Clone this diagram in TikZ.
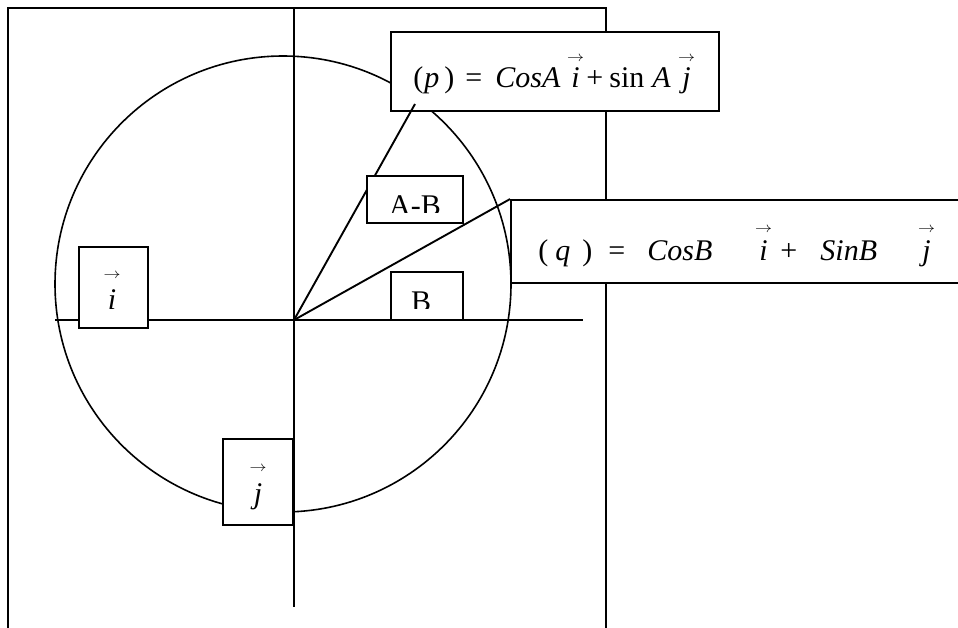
\documentclass[tikz,border=0pt]{standalone}
\usepackage{fontspec}
\setmainfont{Liberation Serif}
\usepackage{graphicx}
\newsavebox\myvecbox
\newcommand\myvec[2][31pt]{\sbox\myvecbox{\textit{#2}}\makebox[\wd\myvecbox][c]{\raisebox{\dimexpr#1-3.6pt\relax}[0pt][0pt]{\normalsize\scalebox{1.7}[1.45]{$\rightarrow$}}}\kern-\wd\myvecbox\usebox\myvecbox}
\newcommand\putat[2]{\rlap{\hspace*{#1pt}#2}}
\begin{document}
\begin{tikzpicture}[x=1pt,y=-1pt,line width=1.9pt,
  box/.style={draw,fill=white,line width=1.9pt,inner sep=0pt},
  lbl/.style={inner sep=0pt,anchor=base west,font=\fontsize{30}{36}\selectfont},
  small/.style={inner sep=0pt,anchor=base,font=\fontsize{30}{36}\selectfont}]
\useasboundingbox (0,0) rectangle (958,628);
\clip (0,0) rectangle (958,628);
% coordinates
\coordinate (O) at (294,320);
\coordinate (vtop) at (294,8);
\coordinate (vbot) at (294,607);
\coordinate (hl) at (55,320);
\coordinate (hr) at (583,320);
\coordinate (tl) at (8,8);
\coordinate (tr) at (606,8);
\coordinate (bl) at (8,640);
\coordinate (br) at (606,640);
\coordinate (C) at (283,284);
\coordinate (pend) at (415,104);
% frame and axes
\draw (bl) -- (tl) -- (tr) -- (br);
\draw (vtop) -- (vbot);
\draw (hl) -- (hr);
\draw[line width=1.6pt] (C) circle[radius=228];
% boxes
\node[box,minimum width=69pt,minimum height=81pt] (ibox) at (113.5,287.5) {};
\node[box,minimum width=70pt,minimum height=86pt] (jbox) at (258,482) {};
\node[box,minimum width=464pt,minimum height=83pt] (qbox) at (743,241.5) {};
\node[box,minimum width=328pt,minimum height=79pt] (pbox) at (555,71.5) {};
% radial lines
\draw (O) -- (pend);
\draw (O) -- (qbox.north west);
\node[box,minimum width=96pt,minimum height=47pt] (abbox) at (415,199.5) {};
\node[box,minimum width=72pt,minimum height=48pt] (bbox) at (427,296) {};
% texts
\node[lbl] (ptext) at (412,88) {\putat{0}{(}\putat{11}{\textit{p}}\putat{31}{)}\putat{52}{=}\putat{82}{\textit{CosA}}\putat{158}{\myvec[30pt]{i}}\putat{173}{+}\putat{196}{sin}\putat{239}{\textit{A}}\putat{269}{\myvec[30pt]{j}}};
\node[lbl] (qtext) at (537,261) {\putat{0}{(}\putat{17}{\textit{q}}\putat{44}{)}\putat{70}{=}\putat{109}{\textit{CosB}}\putat{221}{\myvec[32pt]{i}}\putat{242}{+}\putat{282}{\textit{SinB}}\putat{384}{\myvec[32pt]{j}}};
\node[lbl] (itext) at (107,309) {\myvec[34pt]{i}};
\node[lbl] (jtext) at (253,503) {\myvec[35pt]{j}};
\begin{scope}
\clip (369,178) rectangle (461,213);
\node[small] (abtext) at (415,216) {A-B};
\end{scope}
\begin{scope}
\clip (393,274) rectangle (461,308);
\node[small] (btext) at (421,311) {B};
\end{scope}
\end{tikzpicture}
\end{document}
